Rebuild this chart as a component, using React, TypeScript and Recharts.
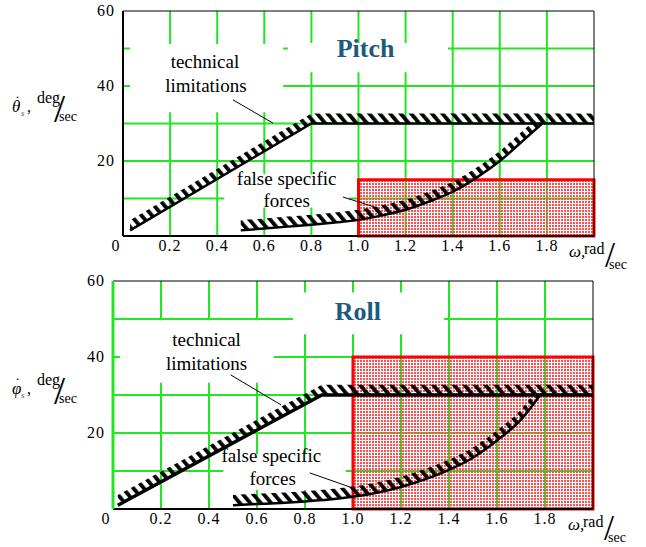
import React from 'react';
import {
  ComposedChart,
  Area,
  Line,
  XAxis,
  YAxis,
  CartesianGrid,
  ReferenceArea,
  ReferenceLine,
  ReferenceDot,
} from 'recharts';

const SERIF = '"Liberation Serif", "Times New Roman", serif';

const xTicks = [0, 0.2, 0.4, 0.6, 0.8, 1.0, 1.2, 1.4, 1.6, 1.8];
const yTicks = [20, 40, 60];
const gridX = [0.2, 0.4, 0.6, 0.8, 1.0, 1.2, 1.4, 1.6, 1.8];
const gridY = [10, 20, 30, 40, 50];

// pitch panel
const pitchTechX = [0.03, 0.8, 2.0];
const pitchTechY = [1.5, 30, 30];
const pitchFalseX = [0.5, 0.6, 0.7, 0.8, 0.9, 1.0, 1.1, 1.2, 1.3, 1.4, 1.5, 1.6, 1.7, 1.78];
const pitchFalseY = [1.5, 2.0, 2.5, 3.0, 3.6, 4.3, 5.5, 7.0, 9.2, 11.8, 15.5, 20.0, 25.5, 30];
const pitchZoneX = [1.0, 2.0];
const pitchZoneY = [0, 15];

// roll panel
const rollTechX = [0.02, 0.87, 2.0];
const rollTechY = [1, 30, 30];
const rollFalseX = [0.5, 0.6, 0.7, 0.8, 0.9, 1.0, 1.1, 1.2, 1.3, 1.4, 1.5, 1.6, 1.7, 1.78];
const rollFalseY = [1.0, 1.3, 1.6, 2.0, 2.5, 3.2, 4.3, 5.8, 7.8, 10.3, 13.5, 18.0, 23.5, 30];
const rollZoneX = [1.0, 2.0];
const rollZoneY = [0, 40];

// annotation text (x centre, y baseline in data units)
const pitchNotes = [
  { text: 'technical', x: 0.348, y: 44.7 },
  { text: 'limitations', x: 0.352, y: 38.5 },
  { text: 'false specific', x: 0.695, y: 13.6 },
  { text: 'forces', x: 0.695, y: 7.8 },
];
const rollNotes = [
  { text: 'technical', x: 0.39, y: 42.9 },
  { text: 'limitations', x: 0.39, y: 36.6 },
  { text: 'false specific', x: 0.66, y: 12.4 },
  { text: 'forces', x: 0.665, y: 6.3 },
];

// white boxes behind labels (they break the grid)
const pitchBoxes = [
  { x1: 0.03, x2: 0.68, y1: 33, y2: 51.2 },
  { x1: 0.7, x2: 1.38, y1: 43.7, y2: 51.5 },
  { x1: 0.43, x2: 0.96, y1: 7.6, y2: 16.5 },
];
const rollBoxes = [
  { x1: 0.03, x2: 0.67, y1: 33.2, y2: 49.7 },
  { x1: 0.75, x2: 1.38, y1: 46, y2: 57 },
  { x1: 0.46, x2: 0.97, y1: 5, y2: 14.5 },
];

const pitchLeaders = [
  [{ x: 0.467, y: 36.3 }, { x: 0.637, y: 30.1 }],
  [{ x: 0.934, y: 10.4 }, { x: 1.08, y: 7.5 }],
];
const rollLeaders = [
  [{ x: 0.49, y: 35.3 }, { x: 0.7, y: 27.4 }],
  [{ x: 0.82, y: 9.5 }, { x: 1.0, y: 5.5 }],
];

const HATCH = 2.7;
const GRID = '#22e622';

const rows = (xs: number[], ys: number[]) => xs.map((x, i) => ({ x, y: ys[i] }));

const XTick = (p: any) => {
  const v = p.payload.value;
  return (
    <text x={p.x + (v === 0 ? -7 : 0)} y={p.y + 15} textAnchor="middle" fontSize={16} style={{ fontFamily: SERIF }} fill="#000" letterSpacing={1}>
      {v === 0 ? '0' : v.toFixed(1)}
    </text>
  );
};

const YTick = (p: any) => (
  <text x={p.x - 8} y={p.y + 5} textAnchor="end" fontSize={16} style={{ fontFamily: SERIF }} fill="#000" letterSpacing={1}>
    {p.payload.value}
  </text>
);

const YLabel = ({ viewBox, sym, base }: any) => {
  const x = viewBox?.x ?? 0;
  const y = (viewBox?.y ?? 0) + base;
  return (
    <g style={{ fontFamily: SERIF }} fill="#000">
      <text x={x + 12} y={y} fontSize={17} fontStyle="italic">{sym}</text>
      <text x={x + 15} y={y - 6} fontSize={15}>˙</text>
      <text x={x + 21} y={y + 4} fontSize={9} fontStyle="italic" fill="#555">s</text>
      <text x={x + 27} y={y} fontSize={16}>,</text>
      <text x={x + 37} y={y - 9} fontSize={16}>deg</text>
      <text x={x + 54} y={y + 10} fontSize={40}>/</text>
      <text x={x + 59} y={y + 9} fontSize={14}>sec</text>
    </g>
  );
};

const XLabel = ({ viewBox }: any) => {
  const r = (viewBox?.x ?? 0) + (viewBox?.width ?? 0);
  const b = viewBox?.y ?? 0;
  return (
    <g style={{ fontFamily: SERIF }} fill="#000">
      <text x={r - 25} y={b + 21} fontSize={17} fontStyle="italic">ω,</text>
      <text x={r - 10} y={b + 18} fontSize={16}>rad</text>
      <text x={r + 11} y={b + 31} fontSize={36}>/</text>
      <text x={r + 15} y={b + 33} fontSize={14}>sec</text>
    </g>
  );
};

const noteShape = (text: string, size: number, bold = false, color = '#000') => (p: any) => (
  <text x={p.cx} y={p.cy} textAnchor="middle" fontSize={size} style={{ fontFamily: SERIF }} fontWeight={bold ? 'bold' : 'normal'} fill={color}>
    {text}
  </text>
);

function Panel(props: any) {
  const {
    title, titleAt, sym, techX, techY, falseX, falseY, zoneX, zoneY,
    notes, boxes, leaders, height, plotLeft, right, bottom, axisColor, axisWidth, lineWidth, labelBase,
  } = props;
  const tech = rows(techX, techY);
  const fake = rows(falseX, falseY);
  const band = (d: any) => [d.y, d.y + HATCH];

  return (
    <ComposedChart width={646} height={height} margin={{ top: 11, right, left: 0, bottom }}>
      <CartesianGrid horizontalValues={gridY} verticalValues={gridX} stroke={GRID} strokeWidth={2} />
      <XAxis
        type="number"
        dataKey="x"
        domain={[0, 2]}
        ticks={xTicks}
        interval={0}
        height={30}
        tickLine={false}
        tickSize={0}
        tickMargin={0}
        tick={<XTick />}
        axisLine={{ stroke: '#000', strokeWidth: 2 }}
        label={(p: any) => <XLabel {...p} />}
      />
      <YAxis
        type="number"
        domain={[0, 60]}
        ticks={yTicks}
        interval={0}
        width={plotLeft}
        tickLine={false}
        tickSize={0}
        tickMargin={0}
        tick={<YTick />}
        axisLine={{ stroke: axisColor, strokeWidth: axisWidth }}
        label={(p: any) => <YLabel {...p} sym={sym} base={labelBase} />}
      />
      {boxes.map((b: any, i: number) => (
        <ReferenceArea key={'b' + i} x1={b.x1} x2={b.x2} y1={b.y1} y2={b.y2} fill="#fff" fillOpacity={1} stroke="none" />
      ))}
      <ReferenceArea
        x1={zoneX[0]}
        x2={zoneX[1]}
        y1={zoneY[0]}
        y2={zoneY[1]}
        fill="url(#redDots)"
        fillOpacity={1}
        stroke="#ff0000"
        strokeWidth={3}
      />
      <Area data={tech} dataKey={band} type="linear" stroke="none" fill="url(#hatch)" fillOpacity={1} isAnimationActive={false} />
      <Area data={fake} dataKey={band} type="monotone" stroke="none" fill="url(#hatch)" fillOpacity={1} isAnimationActive={false} />
      <Line data={tech} dataKey="y" type="linear" stroke="#000" strokeWidth={lineWidth} dot={false} activeDot={false} isAnimationActive={false} />
      <Line data={fake} dataKey="y" type="monotone" stroke="#000" strokeWidth={2.5} dot={false} activeDot={false} isAnimationActive={false} />
      {leaders.map((s: any, i: number) => (
        <ReferenceLine key={'l' + i} segment={s} stroke="#000" strokeWidth={1} />
      ))}
      {notes.map((n: any, i: number) => (
        <ReferenceDot key={'n' + i} x={n.x} y={n.y} r={1} shape={noteShape(n.text, 19)} />
      ))}
      <ReferenceDot x={titleAt.x} y={titleAt.y} r={1} shape={noteShape(title, 26, true, '#1b5b7b')} />
      <ReferenceArea x1={0} x2={2} y1={0} y2={60} fill="none" stroke="#000" strokeWidth={1} />
    </ComposedChart>
  );
}

export default function App() {
  return (
    <div style={{ position: 'absolute', left: 0, top: 0, width: 646, height: 547, background: '#fff', fontFamily: SERIF }}>
      <svg width={0} height={0} style={{ position: 'absolute' }}>
        <defs>
          <pattern id="hatch" width={8} height={8} patternUnits="userSpaceOnUse" patternTransform="rotate(-40)">
            <rect x={0} y={0} width={3.8} height={8} fill="#000" />
          </pattern>
          <pattern id="redDots" width={3} height={3} patternUnits="userSpaceOnUse">
            <rect x={0} y={0} width={2} height={2} fill="#ff5050" />
          </pattern>
        </defs>
      </svg>
      <div style={{ position: 'absolute', left: 0, top: 0 }}>
        <Panel
          title="Pitch"
          titleAt={{ x: 1.03, y: 47.7 }}
          sym="θ"
          techX={pitchTechX}
          techY={pitchTechY}
          falseX={pitchFalseX}
          falseY={pitchFalseY}
          zoneX={pitchZoneX}
          zoneY={pitchZoneY}
          notes={pitchNotes}
          boxes={pitchBoxes}
          leaders={pitchLeaders}
          height={275}
          plotLeft={123}
          right={52}
          bottom={9}
          axisColor="#000"
          axisWidth={2}
          lineWidth={2.5}
          labelBase={101}
        />
      </div>
      <div style={{ position: 'absolute', left: 0, top: 270 }}>
        <Panel
          title="Roll"
          titleAt={{ x: 1.02, y: 49.7 }}
          sym="φ"
          techX={rollTechX}
          techY={rollTechY}
          falseX={rollFalseX}
          falseY={rollFalseY}
          zoneX={rollZoneX}
          zoneY={rollZoneY}
          notes={rollNotes}
          boxes={rollBoxes}
          leaders={rollLeaders}
          height={277}
          plotLeft={113}
          right={53}
          bottom={8}
          axisColor="#22e622"
          axisWidth={3}
          lineWidth={3.5}
          labelBase={113}
        />
      </div>
    </div>
  );
}
